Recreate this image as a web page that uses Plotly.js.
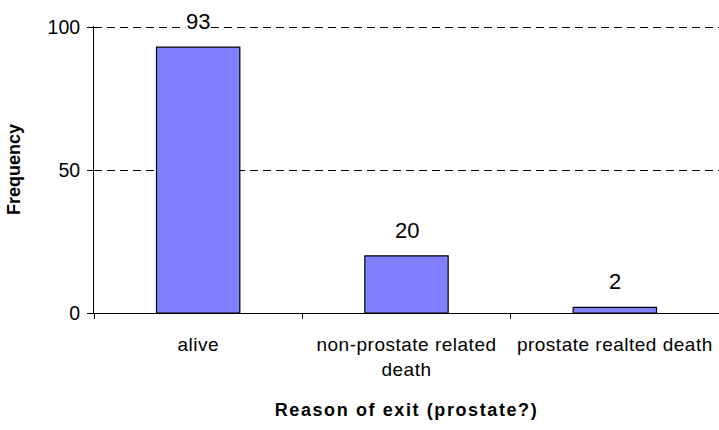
<!DOCTYPE html>
<html>
<head>
<meta charset="utf-8">
<script src="https://cdn.plot.ly/plotly-3.0.1.min.js"></script>
<style>
html,body{margin:0;padding:0;background:#fff;}
#chart{width:719px;height:430px;}
.xtitle{letter-spacing:1.6px;}
.xtick text{letter-spacing:0.5px;}
</style>
</head>
<body>
<div id="chart"></div>
<script>
var categories = ["alive", "non-prostate related<br>death", "prostate realted death"];
var frequency = [93, 20, 2];
var yTicks = [0, 50, 100];

var fontFam = "Liberation Sans, Arial, sans-serif";

var trace = {
  type: "bar",
  x: categories,
  y: frequency,
  marker: {color: "#8080FF", line: {color: "#000000", width: 1.2}},
  hoverinfo: "none"
};

var annotations = frequency.map(function (v, i) {
  return {
    x: categories[i], y: v, xref: "x", yref: "y",
    text: String(v), showarrow: false,
    yanchor: "bottom", yshift: 12,
    bgcolor: "#ffffff", borderpad: 0,
    font: {family: fontFam, size: 22, color: "#000"}
  };
});

var layout = {
  width: 719, height: 430,
  margin: {l: 94, r: 0, t: 26, b: 117},
  paper_bgcolor: "#ffffff", plot_bgcolor: "#ffffff",
  showlegend: false,
  bargap: 0.6,
  font: {family: fontFam, size: 19, color: "#000"},
  xaxis: {
    type: "category",
    tickson: "boundaries",
    ticks: "outside", ticklen: 5, tickcolor: "#000", tickwidth: 1,
    showline: true, linecolor: "#000", linewidth: 1,
    showgrid: false, zeroline: false,
    tickfont: {family: fontFam, size: 19, color: "#000"},
    ticklabelstandoff: 14,
    title: {text: "<b>Reason of exit (prostate?)</b>", font: {family: fontFam, size: 18, color: "#000"}, standoff: 24}
  },
  yaxis: {
    range: [0, 100.4],
    tickvals: yTicks,
    ticks: "outside", ticklen: 6, tickcolor: "#000", tickwidth: 1,
    showline: true, linecolor: "#000", linewidth: 1,
    showgrid: true, gridcolor: "#000", gridwidth: 1, griddash: "8px,5px",
    zeroline: false,
    tickfont: {family: fontFam, size: 19.5, color: "#000"},
    ticklabelstandoff: 3,
    title: {text: "<b>Frequency</b>", font: {family: fontFam, size: 18, color: "#000"}, standoff: 22}
  },
  annotations: annotations
};

Plotly.newPlot("chart", [trace], layout, {displayModeBar: false, staticPlot: true});
</script>
</body>
</html>
